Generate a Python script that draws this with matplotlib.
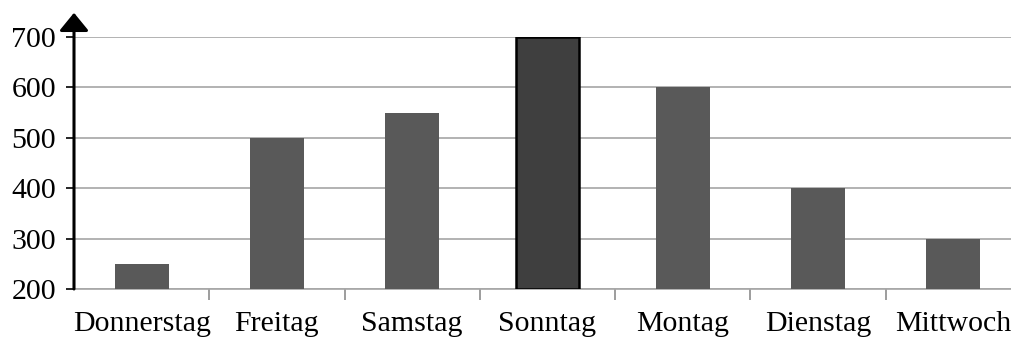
import matplotlib.pyplot as plt

tage = ['Donnerstag', 'Freitag', 'Samstag', 'Sonntag', 'Montag', 'Dienstag', 'Mittwoch']
werte = [250, 500, 550, 700, 600, 400, 300]
yticks = [200, 300, 400, 500, 600, 700]

plt.rcParams['font.family'] = ['Liberation Serif', 'DejaVu Serif']

fig = plt.figure(figsize=(10.12, 3.38), dpi=100)
ax = fig.add_axes([74/1012, 1-289/338, 947/1012, 252/338])

x = list(range(len(tage)))
farben = ['#595959'] * len(tage)
breiten = [0.4] * len(tage)
kanten = ['none'] * len(tage)
farben[3] = '#3f3f3f'
breiten[3] = 0.47
kanten[3] = 'black'
ax.bar(x, [w - 200 for w in werte], bottom=200, width=breiten,
       color=farben, edgecolor=kanten, linewidth=1.8, zorder=3)

ax.set_xlim(-0.5, len(tage) - 0.5)
ax.set_ylim(200, 700)
ax.set_yticks(yticks)
ax.set_yticklabels([str(v) for v in yticks], fontsize=21.5)
ax.yaxis.grid(True, color='#a6a6a6', linewidth=1.2, zorder=0)

# labels centred under bars, tick marks between categories
ax.set_xticks(x)
ax.set_xticklabels(tage, fontsize=21.5)
ax.tick_params(axis='x', length=0, pad=16)
ax.set_xticks([i + 0.5 for i in x[:-1]], minor=True)
ax.tick_params(axis='x', which='minor', length=8, color='#8c8c8c', width=1.2)
ax.tick_params(axis='y', length=6, width=1.2, color='black', pad=7)

for s in ['top', 'right', 'left']:
    ax.spines[s].set_visible(False)
ax.spines['bottom'].set_color('#a6a6a6')
ax.spines['bottom'].set_linewidth(1.2)

# y axis with arrow head
ax.annotate('', xy=(-0.5, 748), xytext=(-0.5, 200), xycoords='data',
            annotation_clip=False,
            arrowprops=dict(arrowstyle='-|>,head_length=0.55,head_width=0.45',
                            mutation_scale=20, color='black', lw=2.2,
                            shrinkA=0, shrinkB=0))

fig.savefig('out.png', dpi=100)
